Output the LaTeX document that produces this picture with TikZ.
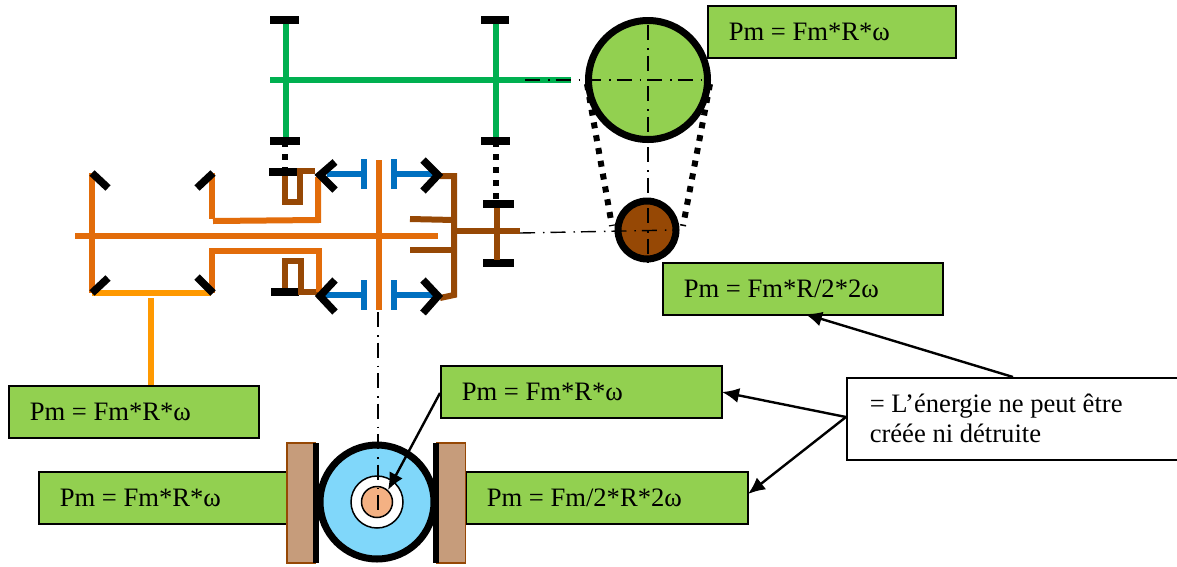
\documentclass[tikz,border=0pt]{standalone}
\usepackage{fontspec}
\setmainfont{Liberation Serif}
\definecolor{boxgreen}{RGB}{146,208,80}
\definecolor{shaftgreen}{RGB}{0,176,80}
\definecolor{shaftorange}{RGB}{226,108,10}
\definecolor{carrierorange}{RGB}{255,153,0}
\definecolor{shaftbrown}{RGB}{150,72,5}
\definecolor{clutchblue}{RGB}{0,112,192}
\definecolor{padbrown}{RGB}{198,156,123}
\definecolor{discblue}{RGB}{128,215,250}
\definecolor{hubtan}{RGB}{244,177,131}
\usetikzlibrary{arrows.meta}
\tikzset{
  powerbox/.style={draw, line width=1.5pt, fill=boxgreen, anchor=north west, minimum height=52pt, inner xsep=21pt, inner ysep=0pt, align=flush left, text width=#1-42pt, minimum width=#1},
  bar/.style={line width=8pt, black},
  bevel/.style={line width=7.5pt, black},
  axisline/.style={line width=1.4pt, dash pattern=on 15pt off 8pt on 1.5pt off 6pt},
  belt/.style={line width=6pt, dash pattern=on 6pt off 7pt},
  shaft/.style={line width=6pt},
  pad/.style={draw=shaftbrown, line width=1.5pt, fill=padbrown, minimum height=120pt, inner sep=0pt},
  callout/.style={line width=2.4pt, -{Latex[length=17pt,width=15pt]}}
}

\begin{document}
\begin{tikzpicture}[x=1pt, y=-1pt, font=\fontsize{26.6}{30}\selectfont]
  \useasboundingbox (0,0) rectangle (1177,566);

  % belt and pulleys
  \draw [belt] (587,84) -- (612,226);
  \draw [belt] (710,84) -- (683,226);
  \node [circle, draw, line width=7pt, fill=boxgreen, minimum size=119pt, inner sep=0pt] (bigpulley) at (648,80) {};
  \node [circle, draw, line width=7pt, fill=shaftbrown, minimum size=58pt, inner sep=0pt] (smallpulley) at (647,230) {};

  % green shaft
  \draw [shaft, shaftgreen] (270,80) -- (571,80);
  \draw [shaft, shaftgreen] (286,20) -- (286,141);
  \draw [shaft, shaftgreen] (496,20) -- (496,141);
  \draw [belt] (285,141) -- (285,172);
  \draw [belt] (496,141) -- (496,204);
  \foreach \xa/\xb/\ya in {270/299/20, 270/300/141, 481/509/20, 481/510/141, 269/299/172, 271/299/292, 483/514/204, 483/514/263}
    \draw [bar] (\xa,\ya) -- (\xb,\ya);

  % brown output
  \draw [shaft, shaftbrown] (440,176) -- (454,176) -- (454,295) -- (440,298);
  \draw [shaft, shaftbrown] (410,219) -- (454,220);
  \draw [shaft, shaftbrown] (410,250) -- (454,250);
  \draw [shaft, shaftbrown] (454,231) -- (520,231);
  \draw [shaft, shaftbrown] (497,208) -- (497,260);
  \draw [shaft, shaftbrown] (315,171) -- (300,171) -- (300,202) -- (285,202) -- (285,176);
  \draw [shaft, shaftbrown] (285,288) -- (285,261) -- (301,261) -- (301,292) -- (318,292);

  % orange planet carrier
  \draw [shaft, carrierorange] (92,293) -- (211,293);
  \draw [shaft, carrierorange] (151,298) -- (151,386);
  \draw [shaft, shaftorange] (75,236) -- (438,236);
  \draw [shaft, shaftorange] (379,160) -- (379,310);
  \draw [shaft, shaftorange] (92,173) -- (92,293);
  \draw [shaft, shaftorange] (212,173) -- (212,219);
  \draw [shaft, shaftorange] (213,221) -- (318,220) -- (318,177);
  \draw [shaft, shaftorange] (212,293) -- (212,251) -- (319,251) -- (319,292);
  \draw [bevel] (92,173) -- (108,188);
  \draw [bevel] (92,293) -- (108,278);
  \draw [bevel] (213,173) -- (197,188);
  \draw [bevel] (213,293) -- (197,277);

  % clutch plates
  \foreach \xa/\xb/\ya in {364/327/174, 394/433/174, 364/323/295, 394/435/295} {
    \draw [shaft, clutchblue] (\xa,\ya) -- (\xb,\ya);
    \draw [line width=6pt, clutchblue] (\xa,\ya-15) -- (\xa,\ya+15);
  }
  \draw [bevel] (335,162) -- (320,175) -- (335,190);
  \draw [bevel] (423,160) -- (438,175) -- (423,191);
  \draw [bevel] (335,280) -- (320,296) -- (335,312);
  \draw [bevel] (423,280) -- (438,296) -- (423,313);

  % power labels
  \node [powerbox=248pt] (pmpulley) at (707,5) {Pm = Fm*R*ω};
  \node [powerbox=280pt] (pmoutput) at (662,262) {Pm = Fm*R/2*2ω};
  \node [powerbox=250pt] (pminput) at (8,385) {Pm = Fm*R*ω};
  \node [powerbox=281pt] (pmhub) at (440,365) {Pm = Fm*R*ω};
  \node [powerbox=250pt] (pmleft) at (38,471) {Pm = Fm*R*ω};
  \node [powerbox=282pt] (pmright) at (465,471) {Pm = Fm/2*R*2ω};
  \node [draw, line width=1.5pt, fill=white, anchor=north west, minimum height=82pt, inner xsep=23pt, inner ysep=0pt, align=flush left, text width=285pt] (note) at (846,377) {= L’énergie ne peut être\\créée ni détruite};

  % brake disc
  \node [pad, minimum width=28pt] (leftpad) at (301,503) {};
  \node [pad, minimum width=29pt] (rightpad) at (451,503) {};
  \node [circle, draw, line width=7pt, fill=discblue, minimum size=114pt, inner sep=0pt] (disc) at (377,502) {};
  \node [circle, draw, line width=1.5pt, fill=white, minimum size=52pt, inner sep=0pt] (bore) at (377,502) {};
  \node [circle, draw, line width=1.5pt, fill=hubtan, minimum size=31pt, inner sep=0pt] (hub) at (377,502) {};
  \draw [line width=6pt] (316,443) -- (316,563);
  \draw [line width=6pt] (436,443) -- (436,563);

  % center lines
  \draw [axisline] (648,25) -- (648,262);
  \draw [axisline] (525,80) -- (707,80);
  \draw [axisline] (520,233) -- (675,230);
  \draw [axisline] (378,312) -- (378,516);

  \coordinate (notetop) at (1013,377);
  \coordinate (noteleft) at (846,417);
  \coordinate (outputtip) at (805,314);
  \coordinate (hubtip) at (722,392);
  \coordinate (righttip) at (748,494);
  \coordinate (hubstart) at (440,393);
  \coordinate (boretip) at (388,490);
  \draw [callout] (notetop) -- (outputtip);
  \draw [callout] (noteleft) -- (hubtip);
  \draw [callout] (noteleft) -- (righttip);
  \draw [callout] (hubstart) -- (boretip);
\end{tikzpicture}
\end{document}
